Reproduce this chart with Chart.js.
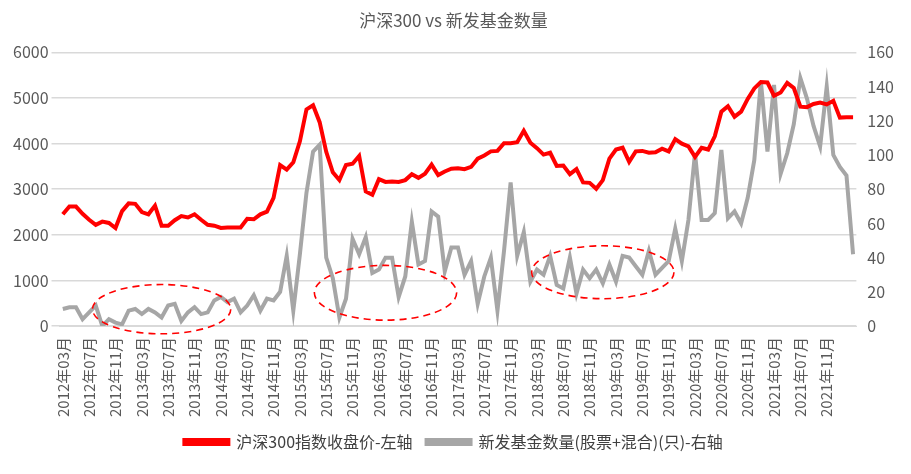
<!DOCTYPE html>
<html><head><meta charset="utf-8">
<script src="https://cdn.jsdelivr.net/npm/chart.js@4"></script>
<style>body{margin:0;background:#fff}#w{width:911px;height:474px}</style></head>
<body><div id="w"><canvas id="c"></canvas></div>
<script>
const startYear = 2012, startMonth = 3, monthCount = 121;
const hs300 = [2450,2620,2620,2460,2330,2220,2290,2260,2150,2520,
2690,2680,2500,2450,2640,2200,2200,2320,2410,2380,2450,2330,
2220,2200,2150,2160,2160,2160,2350,2340,2450,2510,2810,3530,
3430,3590,4050,4750,4840,4470,3820,3370,3200,3530,3560,3730,
2950,2880,3220,3160,3170,3160,3200,3330,3250,3340,3540,3310,
3390,3450,3460,3440,3490,3670,3740,3830,3840,4010,4010,4030,
4280,4020,3900,3760,3800,3510,3520,3330,3440,3150,3140,3010,
3200,3670,3870,3910,3600,3830,3840,3800,3810,3890,3830,4100,
4000,3940,3710,3910,3870,4160,4700,4820,4590,4700,4980,5210,
5350,5340,5050,5120,5330,5220,4810,4800,4870,4900,4860,4940,
4570,4580,4580];
const newFunds = [10,11,11,4,8,12,0,4,2,1,
9,10,7,10,8,5,12,13,3,8,11,7,
8,15,17,14,16,8,12,18,9,16,15,20,
41,9,42,78,102,106,40,28,5,16,51,42,
52,31,33,40,40,17,29,61,36,38,67,64,
32,46,46,30,38,13,29,40,9,44,84,41,
55,26,33,30,41,24,22,40,19,33,28,33,
25,36,26,41,40,35,30,44,30,34,38,57,
38,62,101,62,62,66,103,63,67,60,75,97,
143,102,141,89,101,118,145,133,117,105,140,100,
93,88,42];
const labels = [];
for (let i=0;i<monthCount;i++){const m=(startMonth-1+i)%12+1, y=startYear+Math.floor((startMonth-1+i)/12);labels.push(y+'年'+String(m).padStart(2,'0')+'月');}
const ellipses = [[15,370,10.5,540],[49,730,10.8,600],[82,1180,10.8,580]];
const ellipsePlugin={id:'ell',afterDatasetsDraw(ch){const x=ch.scales.x,y=ch.scales.y,ctx=ch.ctx;ctx.save();ctx.strokeStyle='#ff0000';ctx.lineWidth=1.6;ctx.setLineDash([7,5]);
ellipses.forEach(e=>{const cx=x.getPixelForValue(e[0]),cy=y.getPixelForValue(e[1]);const rx=Math.abs(x.getPixelForValue(e[0]+e[2])-cx),ry=Math.abs(y.getPixelForValue(e[1]+e[3])-cy);ctx.beginPath();ctx.ellipse(cx,cy,rx,ry,0,0,Math.PI*2);ctx.stroke();});ctx.restore();}};
const F='"Noto Sans CJK SC", sans-serif';
new Chart(document.getElementById('c'),{type:'line',data:{labels,datasets:[
{label:'沪深300指数收盘价-左轴',data:hs300,borderColor:'#ff0000',backgroundColor:'#ff0000',borderWidth:4,pointRadius:0,yAxisID:'y',tension:0,order:1},
{label:'新发基金数量(股票+混合)(只)-右轴',data:newFunds,borderColor:'#a6a6a6',backgroundColor:'#a6a6a6',borderWidth:4,pointRadius:0,yAxisID:'y1',tension:0,order:2}]},
plugins:[ellipsePlugin],
options:{responsive:true,maintainAspectRatio:false,animation:false,
layout:{padding:{left:10,right:14,top:4,bottom:14}},
plugins:{title:{display:true,text:'沪深300 vs 新发基金数量',color:'#595959',font:{family:F,size:17,weight:'normal'},padding:{top:6,bottom:22}},
legend:{position:'bottom',labels:{color:'#404040',font:{family:F,size:16},boxWidth:44,boxHeight:4,padding:14}},tooltip:{enabled:false}},
scales:{x:{offset:true,grid:{display:false},border:{color:'#d9d9d9'},ticks:{autoSkip:false,maxRotation:90,minRotation:90,color:'#595959',font:{family:F,size:15},callback:(v,i)=>(i%4===0&&i<120)?labels[i]:''}},
y:{position:'left',min:0,max:6000,ticks:{stepSize:1000,color:'#595959',font:{family:F,size:16},callback:v=>String(v)},grid:{color:'#d9d9d9',lineWidth:1.5},border:{display:false}},
y1:{position:'right',min:0,max:160,ticks:{stepSize:20,color:'#595959',font:{family:F,size:16}},grid:{display:false},border:{display:false}}}}});
</script></body></html>
